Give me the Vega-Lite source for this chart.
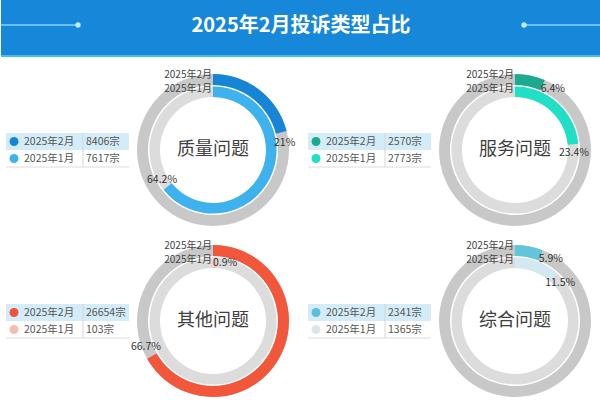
{
  "$schema": "https://vega.github.io/schema/vega-lite/v6.json",
  "padding": 0,
  "background": "#ffffff",
  "spacing": 13,
  "config": {
    "view": {"stroke": null},
    "font": "Noto Sans CJK SC",
    "text": {"font": "Noto Sans CJK SC"}
  },
  "datasets": {
    "main": [
      {"cat": "质量问题", "month": "2025年2月", "count": 8406, "pct": 0.21},
      {"cat": "质量问题", "month": "2025年1月", "count": 7617, "pct": 0.642},
      {"cat": "服务问题", "month": "2025年2月", "count": 2570, "pct": 0.064},
      {"cat": "服务问题", "month": "2025年1月", "count": 2773, "pct": 0.234},
      {"cat": "其他问题", "month": "2025年2月", "count": 26654, "pct": 0.667},
      {"cat": "其他问题", "month": "2025年1月", "count": 103, "pct": 0.009},
      {"cat": "综合问题", "month": "2025年2月", "count": 2341, "pct": 0.059},
      {"cat": "综合问题", "month": "2025年1月", "count": 1365, "pct": 0.115}
    ]
  },
  "data": {"name": "main"},
  "resolve": {"scale": {"x": "independent", "y": "independent", "color": "independent", "theta": "independent"}},
  "vconcat": [
    {
      "width": 600,
      "height": 57,
      "data": {"values": [{}]},
      "view": {"fill": "#1787d9", "stroke": null},
      "layer": [
        {"mark": {"type": "text", "text": "2025年2月投诉类型占比", "fontSize": 20, "fontWeight": "bold", "color": "#ffffff", "dy": -3}, "encoding": {}},
        {"mark": {"type": "rule", "color": "#86d3f6", "strokeWidth": 1.5},
         "encoding": {
           "x": {"datum": 0, "scale": {"domain": [0, 600], "nice": false, "zero": false}, "axis": null},
           "x2": {"datum": 77},
           "y": {"datum": 25, "scale": {"domain": [0, 57], "reverse": true, "nice": false, "zero": false}, "axis": null}}},
        {"mark": {"type": "rule", "color": "#86d3f6", "strokeWidth": 1.5},
         "encoding": {
           "x": {"datum": 523, "scale": {"domain": [0, 600], "nice": false, "zero": false}, "axis": null},
           "x2": {"datum": 599},
           "y": {"datum": 25, "scale": {"domain": [0, 57], "reverse": true, "nice": false, "zero": false}, "axis": null}}},
        {"mark": {"type": "point", "filled": true, "size": 28, "color": "#c2ecfc", "opacity": 1},
         "encoding": {
           "x": {"datum": 77, "scale": {"domain": [0, 600], "nice": false, "zero": false}, "axis": null},
           "y": {"datum": 25, "scale": {"domain": [0, 57], "reverse": true, "nice": false, "zero": false}, "axis": null}}},
        {"mark": {"type": "point", "filled": true, "size": 28, "color": "#c2ecfc", "opacity": 1},
         "encoding": {
           "x": {"datum": 523, "scale": {"domain": [0, 600], "nice": false, "zero": false}, "axis": null},
           "y": {"datum": 25, "scale": {"domain": [0, 57], "reverse": true, "nice": false, "zero": false}, "axis": null}}},
        {"mark": {"type": "rule", "color": "#45bdf3", "strokeWidth": 2},
         "encoding": {
           "y": {"datum": 56, "scale": {"domain": [0, 57], "reverse": true, "nice": false, "zero": false}, "axis": null}}}
      ]
    },
    {
      "columns": 6,
      "spacing": {"row": 11, "column": 4},
      "align": "each",
      "bounds": "flush",
      "resolve": {"scale": {"x": "independent", "y": "independent", "color": "independent", "theta": "independent"}},
      "concat": [
        {"width": 1, "height": 160, "transform": [{"filter": "datum.cat === '质量问题' && datum.month === '2025年2月'"}], "mark": {"type": "text", "text": ""}, "encoding": {}},
        {
          "width": 123, "height": 160,
          "transform": [{"filter": "datum.cat === '质量问题'"}],
          "layer": [
            {"transform": [{"filter": "datum.month === '2025年2月'"}], "mark": {"type": "rect", "color": "#d4ecf8"},
             "encoding": {"y": {"field": "month", "type": "nominal", "scale": {"type": "band", "domain": ["2025年2月", "2025年1月"], "range": [63, 97], "paddingInner": 0, "paddingOuter": 0}, "axis": null}}},
            {"transform": [{"filter": "datum.month === '2025年1月'"}], "mark": {"type": "rule", "color": "#dcdcdc"},
             "encoding": {"y": {"field": "month", "type": "nominal", "bandPosition": 1, "scale": {"type": "band", "domain": ["2025年2月", "2025年1月"], "range": [63, 97], "paddingInner": 0, "paddingOuter": 0}, "axis": null}}},
            {"mark": {"type": "tick", "orient": "vertical", "size": 17, "thickness": 1, "color": "#d6d6d6", "opacity": 1},
             "encoding": {
               "x": {"datum": "value", "scale": {"type": "point", "domain": ["name", "value"], "range": [8, 77], "padding": 0}, "axis": null},
               "y": {"field": "month", "type": "nominal", "scale": {"type": "band", "domain": ["2025年2月", "2025年1月"], "range": [63, 97], "paddingInner": 0, "paddingOuter": 0}, "axis": null}}},
            {"mark": {"type": "point", "filled": true, "size": 80, "opacity": 1},
             "encoding": {
               "x": {"datum": "name", "scale": {"type": "point", "domain": ["name", "value"], "range": [8, 77], "padding": 0}, "axis": null},
               "y": {"field": "month", "type": "nominal", "scale": {"type": "band", "domain": ["2025年2月", "2025年1月"], "range": [63, 97], "paddingInner": 0, "paddingOuter": 0}, "axis": null},
               "color": {"field": "month", "type": "nominal", "scale": {"domain": ["2025年2月", "2025年1月"], "range": ["#1785d6", "#3db2ee"]}, "legend": null}}},
            {"mark": {"type": "text", "align": "left", "baseline": "middle", "dx": 10, "fontSize": 10.5, "color": "#555555"},
             "encoding": {
               "x": {"datum": "name", "scale": {"type": "point", "domain": ["name", "value"], "range": [8, 77], "padding": 0}, "axis": null},
               "y": {"field": "month", "type": "nominal", "scale": {"type": "band", "domain": ["2025年2月", "2025年1月"], "range": [63, 97], "paddingInner": 0, "paddingOuter": 0}, "axis": null},
               "text": {"field": "month"}}},
            {"mark": {"type": "text", "align": "left", "baseline": "middle", "dx": 3, "fontSize": 10.5, "color": "#555555", "text": {"expr": "datum.count + '宗'"}},
             "encoding": {
               "x": {"datum": "value", "scale": {"type": "point", "domain": ["name", "value"], "range": [8, 77], "padding": 0}, "axis": null},
               "y": {"field": "month", "type": "nominal", "scale": {"type": "band", "domain": ["2025年2月", "2025年1月"], "range": [63, 97], "paddingInner": 0, "paddingOuter": 0}, "axis": null}}}
          ]
        },
        {
          "width": 160, "height": 160,
          "transform": [{"filter": "datum.cat === '质量问题'"}],
          "layer": [
            {"transform": [{"filter": "datum.month === '2025年2月'"}], "mark": {"type": "arc", "radius": 76, "radius2": 65, "color": "#c8c8c8"}, "encoding": {}},
            {"transform": [{"filter": "datum.month === '2025年2月'"}], "mark": {"type": "arc", "radius": 63.5, "radius2": 53, "color": "#dcdcdc"}, "encoding": {}},
            {"transform": [{"filter": "datum.month === '2025年2月'"}], "mark": {"type": "arc", "radius": 76, "radius2": 65, "color": "#1785d6"},
             "encoding": {"theta": {"field": "pct", "type": "quantitative", "scale": {"domain": [0, 1]}}}},
            {"transform": [{"filter": "datum.month === '2025年1月'"}], "mark": {"type": "arc", "radius": 63.5, "radius2": 53, "color": "#3db2ee"},
             "encoding": {"theta": {"field": "pct", "type": "quantitative", "scale": {"domain": [0, 1]}}}},
            {"transform": [{"filter": "datum.month === '2025年2月'"}], "mark": {"type": "text", "radius": 72, "thetaOffset": 0.15, "fontSize": 10.5, "color": "#333333"},
             "encoding": {"theta": {"field": "pct", "type": "quantitative", "stack": null, "scale": {"domain": [0, 1]}}, "text": {"field": "pct", "type": "quantitative", "format": ".1~%"}}},
            {"transform": [{"filter": "datum.month === '2025年1月'"}], "mark": {"type": "text", "radius": 59, "thetaOffset": 0.15, "fontSize": 10.5, "color": "#333333"},
             "encoding": {"theta": {"field": "pct", "type": "quantitative", "stack": null, "scale": {"domain": [0, 1]}}, "text": {"field": "pct", "type": "quantitative", "format": ".1~%"}}},
            {"transform": [{"filter": "datum.month === '2025年2月'"}], "mark": {"type": "text", "radius": 75, "theta": 0, "align": "right", "baseline": "middle", "dx": -1, "fontSize": 10, "color": "#444444"},
             "encoding": {"text": {"field": "month"}}},
            {"transform": [{"filter": "datum.month === '2025年1月'"}], "mark": {"type": "text", "radius": 61, "theta": 0, "align": "right", "baseline": "middle", "dx": -1, "fontSize": 10, "color": "#444444"},
             "encoding": {"text": {"field": "month"}}},
            {"transform": [{"filter": "datum.month === '2025年2月'"}], "mark": {"type": "text", "fontSize": 18, "color": "#404040", "baseline": "middle"},
             "encoding": {"text": {"field": "cat"}}}
          ]
        },
        {"width": 7, "height": 160, "transform": [{"filter": "datum.cat === '服务问题' && datum.month === '2025年2月'"}], "mark": {"type": "text", "text": ""}, "encoding": {}},
        {
          "width": 123, "height": 160,
          "transform": [{"filter": "datum.cat === '服务问题'"}],
          "layer": [
            {"transform": [{"filter": "datum.month === '2025年2月'"}], "mark": {"type": "rect", "color": "#d4ecf8"},
             "encoding": {"y": {"field": "month", "type": "nominal", "scale": {"type": "band", "domain": ["2025年2月", "2025年1月"], "range": [63, 97], "paddingInner": 0, "paddingOuter": 0}, "axis": null}}},
            {"transform": [{"filter": "datum.month === '2025年1月'"}], "mark": {"type": "rule", "color": "#dcdcdc"},
             "encoding": {"y": {"field": "month", "type": "nominal", "bandPosition": 1, "scale": {"type": "band", "domain": ["2025年2月", "2025年1月"], "range": [63, 97], "paddingInner": 0, "paddingOuter": 0}, "axis": null}}},
            {"mark": {"type": "tick", "orient": "vertical", "size": 17, "thickness": 1, "color": "#d6d6d6", "opacity": 1},
             "encoding": {
               "x": {"datum": "value", "scale": {"type": "point", "domain": ["name", "value"], "range": [8, 77], "padding": 0}, "axis": null},
               "y": {"field": "month", "type": "nominal", "scale": {"type": "band", "domain": ["2025年2月", "2025年1月"], "range": [63, 97], "paddingInner": 0, "paddingOuter": 0}, "axis": null}}},
            {"mark": {"type": "point", "filled": true, "size": 80, "opacity": 1},
             "encoding": {
               "x": {"datum": "name", "scale": {"type": "point", "domain": ["name", "value"], "range": [8, 77], "padding": 0}, "axis": null},
               "y": {"field": "month", "type": "nominal", "scale": {"type": "band", "domain": ["2025年2月", "2025年1月"], "range": [63, 97], "paddingInner": 0, "paddingOuter": 0}, "axis": null},
               "color": {"field": "month", "type": "nominal", "scale": {"domain": ["2025年2月", "2025年1月"], "range": ["#1caa8e", "#1fe0c4"]}, "legend": null}}},
            {"mark": {"type": "text", "align": "left", "baseline": "middle", "dx": 10, "fontSize": 10.5, "color": "#555555"},
             "encoding": {
               "x": {"datum": "name", "scale": {"type": "point", "domain": ["name", "value"], "range": [8, 77], "padding": 0}, "axis": null},
               "y": {"field": "month", "type": "nominal", "scale": {"type": "band", "domain": ["2025年2月", "2025年1月"], "range": [63, 97], "paddingInner": 0, "paddingOuter": 0}, "axis": null},
               "text": {"field": "month"}}},
            {"mark": {"type": "text", "align": "left", "baseline": "middle", "dx": 3, "fontSize": 10.5, "color": "#555555", "text": {"expr": "datum.count + '宗'"}},
             "encoding": {
               "x": {"datum": "value", "scale": {"type": "point", "domain": ["name", "value"], "range": [8, 77], "padding": 0}, "axis": null},
               "y": {"field": "month", "type": "nominal", "scale": {"type": "band", "domain": ["2025年2月", "2025年1月"], "range": [63, 97], "paddingInner": 0, "paddingOuter": 0}, "axis": null}}}
          ]
        },
        {
          "width": 160, "height": 160,
          "transform": [{"filter": "datum.cat === '服务问题'"}],
          "layer": [
            {"transform": [{"filter": "datum.month === '2025年2月'"}], "mark": {"type": "arc", "radius": 76, "radius2": 65, "color": "#c8c8c8"}, "encoding": {}},
            {"transform": [{"filter": "datum.month === '2025年2月'"}], "mark": {"type": "arc", "radius": 63.5, "radius2": 53, "color": "#dcdcdc"}, "encoding": {}},
            {"transform": [{"filter": "datum.month === '2025年2月'"}], "mark": {"type": "arc", "radius": 76, "radius2": 65, "color": "#1caa8e"},
             "encoding": {"theta": {"field": "pct", "type": "quantitative", "scale": {"domain": [0, 1]}}}},
            {"transform": [{"filter": "datum.month === '2025年1月'"}], "mark": {"type": "arc", "radius": 63.5, "radius2": 53, "color": "#1fe0c4"},
             "encoding": {"theta": {"field": "pct", "type": "quantitative", "scale": {"domain": [0, 1]}}}},
            {"transform": [{"filter": "datum.month === '2025年2月'"}], "mark": {"type": "text", "radius": 72, "thetaOffset": 0.15, "fontSize": 10.5, "color": "#333333"},
             "encoding": {"theta": {"field": "pct", "type": "quantitative", "stack": null, "scale": {"domain": [0, 1]}}, "text": {"field": "pct", "type": "quantitative", "format": ".1~%"}}},
            {"transform": [{"filter": "datum.month === '2025年1月'"}], "mark": {"type": "text", "radius": 59, "thetaOffset": 0.15, "fontSize": 10.5, "color": "#333333"},
             "encoding": {"theta": {"field": "pct", "type": "quantitative", "stack": null, "scale": {"domain": [0, 1]}}, "text": {"field": "pct", "type": "quantitative", "format": ".1~%"}}},
            {"transform": [{"filter": "datum.month === '2025年2月'"}], "mark": {"type": "text", "radius": 75, "theta": 0, "align": "right", "baseline": "middle", "dx": -1, "fontSize": 10, "color": "#444444"},
             "encoding": {"text": {"field": "month"}}},
            {"transform": [{"filter": "datum.month === '2025年1月'"}], "mark": {"type": "text", "radius": 61, "theta": 0, "align": "right", "baseline": "middle", "dx": -1, "fontSize": 10, "color": "#444444"},
             "encoding": {"text": {"field": "month"}}},
            {"transform": [{"filter": "datum.month === '2025年2月'"}], "mark": {"type": "text", "fontSize": 18, "color": "#404040", "baseline": "middle"},
             "encoding": {"text": {"field": "cat"}}}
          ]
        },
        {"width": 1, "height": 160, "transform": [{"filter": "datum.cat === '其他问题' && datum.month === '2025年2月'"}], "mark": {"type": "text", "text": ""}, "encoding": {}},
        {
          "width": 123, "height": 160,
          "transform": [{"filter": "datum.cat === '其他问题'"}],
          "layer": [
            {"transform": [{"filter": "datum.month === '2025年2月'"}], "mark": {"type": "rect", "color": "#d4ecf8"},
             "encoding": {"y": {"field": "month", "type": "nominal", "scale": {"type": "band", "domain": ["2025年2月", "2025年1月"], "range": [63, 97], "paddingInner": 0, "paddingOuter": 0}, "axis": null}}},
            {"transform": [{"filter": "datum.month === '2025年1月'"}], "mark": {"type": "rule", "color": "#dcdcdc"},
             "encoding": {"y": {"field": "month", "type": "nominal", "bandPosition": 1, "scale": {"type": "band", "domain": ["2025年2月", "2025年1月"], "range": [63, 97], "paddingInner": 0, "paddingOuter": 0}, "axis": null}}},
            {"mark": {"type": "tick", "orient": "vertical", "size": 17, "thickness": 1, "color": "#d6d6d6", "opacity": 1},
             "encoding": {
               "x": {"datum": "value", "scale": {"type": "point", "domain": ["name", "value"], "range": [8, 77], "padding": 0}, "axis": null},
               "y": {"field": "month", "type": "nominal", "scale": {"type": "band", "domain": ["2025年2月", "2025年1月"], "range": [63, 97], "paddingInner": 0, "paddingOuter": 0}, "axis": null}}},
            {"mark": {"type": "point", "filled": true, "size": 80, "opacity": 1},
             "encoding": {
               "x": {"datum": "name", "scale": {"type": "point", "domain": ["name", "value"], "range": [8, 77], "padding": 0}, "axis": null},
               "y": {"field": "month", "type": "nominal", "scale": {"type": "band", "domain": ["2025年2月", "2025年1月"], "range": [63, 97], "paddingInner": 0, "paddingOuter": 0}, "axis": null},
               "color": {"field": "month", "type": "nominal", "scale": {"domain": ["2025年2月", "2025年1月"], "range": ["#f1503a", "#f6bcae"]}, "legend": null}}},
            {"mark": {"type": "text", "align": "left", "baseline": "middle", "dx": 10, "fontSize": 10.5, "color": "#555555"},
             "encoding": {
               "x": {"datum": "name", "scale": {"type": "point", "domain": ["name", "value"], "range": [8, 77], "padding": 0}, "axis": null},
               "y": {"field": "month", "type": "nominal", "scale": {"type": "band", "domain": ["2025年2月", "2025年1月"], "range": [63, 97], "paddingInner": 0, "paddingOuter": 0}, "axis": null},
               "text": {"field": "month"}}},
            {"mark": {"type": "text", "align": "left", "baseline": "middle", "dx": 3, "fontSize": 10.5, "color": "#555555", "text": {"expr": "datum.count + '宗'"}},
             "encoding": {
               "x": {"datum": "value", "scale": {"type": "point", "domain": ["name", "value"], "range": [8, 77], "padding": 0}, "axis": null},
               "y": {"field": "month", "type": "nominal", "scale": {"type": "band", "domain": ["2025年2月", "2025年1月"], "range": [63, 97], "paddingInner": 0, "paddingOuter": 0}, "axis": null}}}
          ]
        },
        {
          "width": 160, "height": 160,
          "transform": [{"filter": "datum.cat === '其他问题'"}],
          "layer": [
            {"transform": [{"filter": "datum.month === '2025年2月'"}], "mark": {"type": "arc", "radius": 76, "radius2": 65, "color": "#c8c8c8"}, "encoding": {}},
            {"transform": [{"filter": "datum.month === '2025年2月'"}], "mark": {"type": "arc", "radius": 63.5, "radius2": 53, "color": "#dcdcdc"}, "encoding": {}},
            {"transform": [{"filter": "datum.month === '2025年2月'"}], "mark": {"type": "arc", "radius": 76, "radius2": 65, "color": "#f2573b"},
             "encoding": {"theta": {"field": "pct", "type": "quantitative", "scale": {"domain": [0, 1]}}}},
            {"transform": [{"filter": "datum.month === '2025年1月'"}], "mark": {"type": "arc", "radius": 63.5, "radius2": 53, "color": "#f6bfae"},
             "encoding": {"theta": {"field": "pct", "type": "quantitative", "scale": {"domain": [0, 1]}}}},
            {"transform": [{"filter": "datum.month === '2025年2月'"}], "mark": {"type": "text", "radius": 72, "thetaOffset": 0.15, "fontSize": 10.5, "color": "#333333"},
             "encoding": {"theta": {"field": "pct", "type": "quantitative", "stack": null, "scale": {"domain": [0, 1]}}, "text": {"field": "pct", "type": "quantitative", "format": ".1~%"}}},
            {"transform": [{"filter": "datum.month === '2025年1月'"}], "mark": {"type": "text", "radius": 59, "thetaOffset": 0.15, "fontSize": 10.5, "color": "#333333"},
             "encoding": {"theta": {"field": "pct", "type": "quantitative", "stack": null, "scale": {"domain": [0, 1]}}, "text": {"field": "pct", "type": "quantitative", "format": ".1~%"}}},
            {"transform": [{"filter": "datum.month === '2025年2月'"}], "mark": {"type": "text", "radius": 75, "theta": 0, "align": "right", "baseline": "middle", "dx": -1, "fontSize": 10, "color": "#444444"},
             "encoding": {"text": {"field": "month"}}},
            {"transform": [{"filter": "datum.month === '2025年1月'"}], "mark": {"type": "text", "radius": 61, "theta": 0, "align": "right", "baseline": "middle", "dx": -1, "fontSize": 10, "color": "#444444"},
             "encoding": {"text": {"field": "month"}}},
            {"transform": [{"filter": "datum.month === '2025年2月'"}], "mark": {"type": "text", "fontSize": 18, "color": "#404040", "baseline": "middle"},
             "encoding": {"text": {"field": "cat"}}}
          ]
        },
        {"width": 7, "height": 160, "transform": [{"filter": "datum.cat === '综合问题' && datum.month === '2025年2月'"}], "mark": {"type": "text", "text": ""}, "encoding": {}},
        {
          "width": 123, "height": 160,
          "transform": [{"filter": "datum.cat === '综合问题'"}],
          "layer": [
            {"transform": [{"filter": "datum.month === '2025年2月'"}], "mark": {"type": "rect", "color": "#d4ecf8"},
             "encoding": {"y": {"field": "month", "type": "nominal", "scale": {"type": "band", "domain": ["2025年2月", "2025年1月"], "range": [63, 97], "paddingInner": 0, "paddingOuter": 0}, "axis": null}}},
            {"transform": [{"filter": "datum.month === '2025年1月'"}], "mark": {"type": "rule", "color": "#dcdcdc"},
             "encoding": {"y": {"field": "month", "type": "nominal", "bandPosition": 1, "scale": {"type": "band", "domain": ["2025年2月", "2025年1月"], "range": [63, 97], "paddingInner": 0, "paddingOuter": 0}, "axis": null}}},
            {"mark": {"type": "tick", "orient": "vertical", "size": 17, "thickness": 1, "color": "#d6d6d6", "opacity": 1},
             "encoding": {
               "x": {"datum": "value", "scale": {"type": "point", "domain": ["name", "value"], "range": [8, 77], "padding": 0}, "axis": null},
               "y": {"field": "month", "type": "nominal", "scale": {"type": "band", "domain": ["2025年2月", "2025年1月"], "range": [63, 97], "paddingInner": 0, "paddingOuter": 0}, "axis": null}}},
            {"mark": {"type": "point", "filled": true, "size": 80, "opacity": 1},
             "encoding": {
               "x": {"datum": "name", "scale": {"type": "point", "domain": ["name", "value"], "range": [8, 77], "padding": 0}, "axis": null},
               "y": {"field": "month", "type": "nominal", "scale": {"type": "band", "domain": ["2025年2月", "2025年1月"], "range": [63, 97], "paddingInner": 0, "paddingOuter": 0}, "axis": null},
               "color": {"field": "month", "type": "nominal", "scale": {"domain": ["2025年2月", "2025年1月"], "range": ["#5bbfd8", "#dde5ea"]}, "legend": null}}},
            {"mark": {"type": "text", "align": "left", "baseline": "middle", "dx": 10, "fontSize": 10.5, "color": "#555555"},
             "encoding": {
               "x": {"datum": "name", "scale": {"type": "point", "domain": ["name", "value"], "range": [8, 77], "padding": 0}, "axis": null},
               "y": {"field": "month", "type": "nominal", "scale": {"type": "band", "domain": ["2025年2月", "2025年1月"], "range": [63, 97], "paddingInner": 0, "paddingOuter": 0}, "axis": null},
               "text": {"field": "month"}}},
            {"mark": {"type": "text", "align": "left", "baseline": "middle", "dx": 3, "fontSize": 10.5, "color": "#555555", "text": {"expr": "datum.count + '宗'"}},
             "encoding": {
               "x": {"datum": "value", "scale": {"type": "point", "domain": ["name", "value"], "range": [8, 77], "padding": 0}, "axis": null},
               "y": {"field": "month", "type": "nominal", "scale": {"type": "band", "domain": ["2025年2月", "2025年1月"], "range": [63, 97], "paddingInner": 0, "paddingOuter": 0}, "axis": null}}}
          ]
        },
        {
          "width": 160, "height": 160,
          "transform": [{"filter": "datum.cat === '综合问题'"}],
          "layer": [
            {"transform": [{"filter": "datum.month === '2025年2月'"}], "mark": {"type": "arc", "radius": 76, "radius2": 65, "color": "#c8c8c8"}, "encoding": {}},
            {"transform": [{"filter": "datum.month === '2025年2月'"}], "mark": {"type": "arc", "radius": 63.5, "radius2": 53, "color": "#dcdcdc"}, "encoding": {}},
            {"transform": [{"filter": "datum.month === '2025年2月'"}], "mark": {"type": "arc", "radius": 76, "radius2": 65, "color": "#62c5da"},
             "encoding": {"theta": {"field": "pct", "type": "quantitative", "scale": {"domain": [0, 1]}}}},
            {"transform": [{"filter": "datum.month === '2025年1月'"}], "mark": {"type": "arc", "radius": 63.5, "radius2": 53, "color": "#d3e9f2"},
             "encoding": {"theta": {"field": "pct", "type": "quantitative", "scale": {"domain": [0, 1]}}}},
            {"transform": [{"filter": "datum.month === '2025年2月'"}], "mark": {"type": "text", "radius": 72, "thetaOffset": 0.15, "fontSize": 10.5, "color": "#333333"},
             "encoding": {"theta": {"field": "pct", "type": "quantitative", "stack": null, "scale": {"domain": [0, 1]}}, "text": {"field": "pct", "type": "quantitative", "format": ".1~%"}}},
            {"transform": [{"filter": "datum.month === '2025年1月'"}], "mark": {"type": "text", "radius": 59, "thetaOffset": 0.15, "fontSize": 10.5, "color": "#333333"},
             "encoding": {"theta": {"field": "pct", "type": "quantitative", "stack": null, "scale": {"domain": [0, 1]}}, "text": {"field": "pct", "type": "quantitative", "format": ".1~%"}}},
            {"transform": [{"filter": "datum.month === '2025年2月'"}], "mark": {"type": "text", "radius": 75, "theta": 0, "align": "right", "baseline": "middle", "dx": -1, "fontSize": 10, "color": "#444444"},
             "encoding": {"text": {"field": "month"}}},
            {"transform": [{"filter": "datum.month === '2025年1月'"}], "mark": {"type": "text", "radius": 61, "theta": 0, "align": "right", "baseline": "middle", "dx": -1, "fontSize": 10, "color": "#444444"},
             "encoding": {"text": {"field": "month"}}},
            {"transform": [{"filter": "datum.month === '2025年2月'"}], "mark": {"type": "text", "fontSize": 18, "color": "#404040", "baseline": "middle"},
             "encoding": {"text": {"field": "cat"}}}
          ]
        }
      ]
    }
  ]
}
